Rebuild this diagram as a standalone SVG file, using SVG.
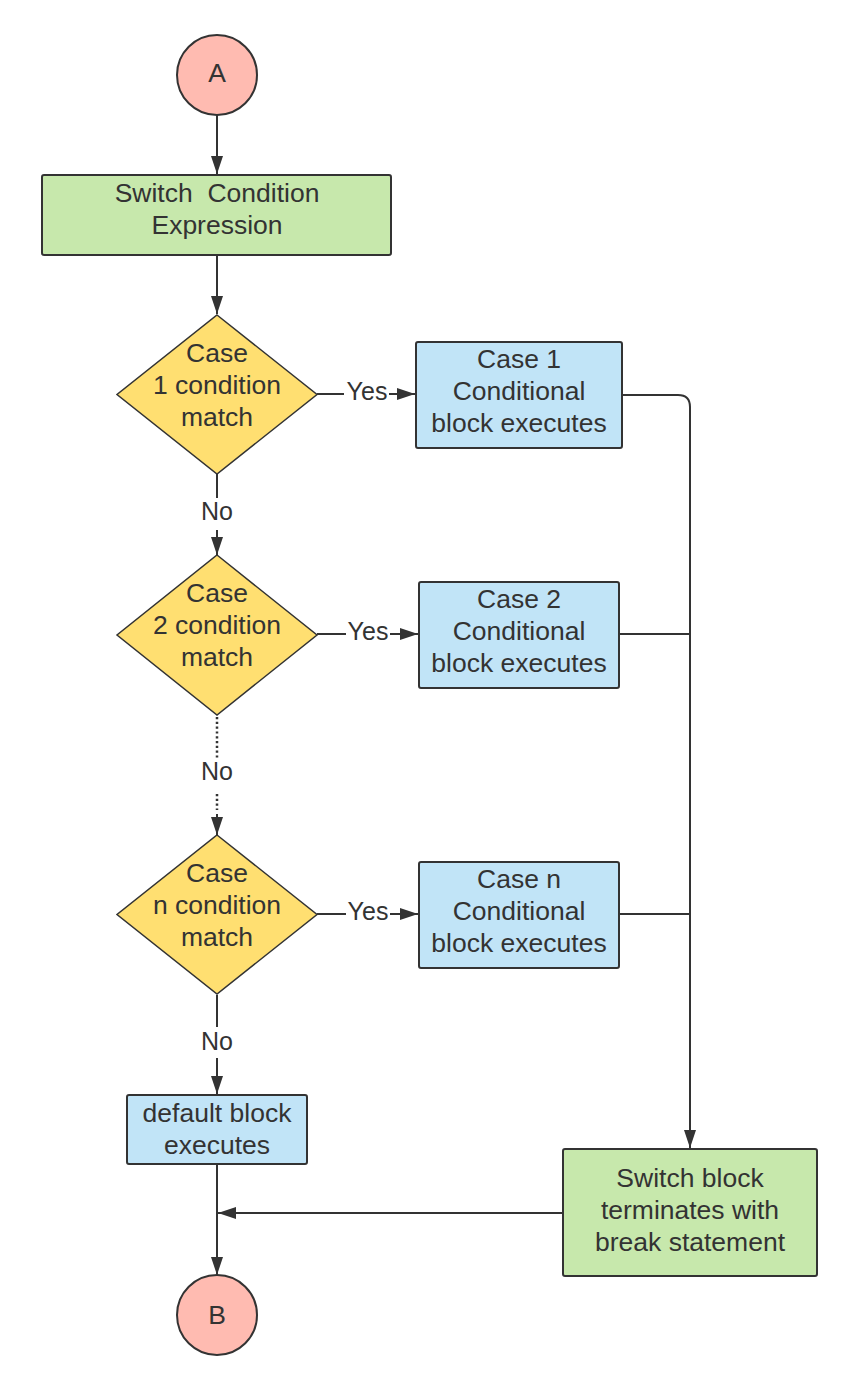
<svg xmlns="http://www.w3.org/2000/svg" width="865" height="1389" viewBox="0 0 865 1389">
<style>
text{font-family:"Liberation Sans",Arial,sans-serif;fill:#333333;text-anchor:middle}
.n{font-size:26.5px}
.l{font-size:25px}
.ln{fill:none;stroke:#333333;stroke-width:2}
.dot{fill:none;stroke:#333333;stroke-width:2.5;stroke-dasharray:2.2 2.6}
.circ{fill:#FFBBB1;stroke:#333333;stroke-width:2}
.grn{fill:#C7E8AC;stroke:#333333;stroke-width:2}
.blu{fill:#C1E4F7;stroke:#333333;stroke-width:2}
.yel{fill:#FFDF71;stroke:#333333;stroke-width:1.5}
</style>
<defs>
<marker id="ah" viewBox="0 0 18 12" refX="18" refY="6" markerWidth="18" markerHeight="12" markerUnits="userSpaceOnUse" orient="auto">
<path d="M0,0 L18,6 L0,12 Z" fill="#333333"/>
</marker>
</defs>
<rect width="865" height="1389" fill="#ffffff"/>
<g id="connectors">
<line class="ln" x1="217" y1="115" x2="217" y2="174" marker-end="url(#ah)"/>
<line class="ln" x1="217" y1="255" x2="217" y2="314" marker-end="url(#ah)"/>
<line class="ln" x1="217" y1="474" x2="217" y2="498"/>
<line class="ln" x1="217" y1="530" x2="217" y2="555" marker-end="url(#ah)"/>
<line class="dot" x1="217" y1="717" x2="217" y2="758"/>
<line class="dot" x1="217" y1="794" x2="217" y2="810"/>
<line class="ln" x1="217" y1="812" x2="217" y2="835" stroke-dasharray="0 2 30" marker-end="url(#ah)"/>
<line class="ln" x1="217" y1="995" x2="217" y2="1027"/>
<line class="ln" x1="217" y1="1058" x2="217" y2="1094" marker-end="url(#ah)"/>
<line class="ln" x1="217" y1="1164" x2="217" y2="1275" marker-end="url(#ah)"/>
<line class="ln" x1="563" y1="1213" x2="218" y2="1213" marker-end="url(#ah)"/>
<line class="ln" x1="317" y1="394" x2="344" y2="394"/>
<line class="ln" x1="389" y1="394" x2="415" y2="394" marker-end="url(#ah)"/>
<line class="ln" x1="317" y1="634" x2="346" y2="634"/>
<line class="ln" x1="390" y1="634" x2="418" y2="634" marker-end="url(#ah)"/>
<line class="ln" x1="317" y1="914" x2="346" y2="914"/>
<line class="ln" x1="390" y1="914" x2="418" y2="914" marker-end="url(#ah)"/>
<path class="ln" d="M622,395 H678 Q690,395 690,407 V1148" marker-end="url(#ah)"/>
<line class="ln" x1="619" y1="634" x2="690" y2="634"/>
<line class="ln" x1="619" y1="914" x2="690" y2="914"/>
<text class="l" x="367" y="400">Yes</text>
<text class="l" x="368" y="640">Yes</text>
<text class="l" x="368" y="920">Yes</text>
<text class="l" x="217" y="520">No</text>
<text class="l" x="217" y="780">No</text>
<text class="l" x="217" y="1050">No</text>
</g>
<g id="nodeA">
<circle class="circ" cx="217" cy="75" r="40"/>
<text class="n" x="217" y="82">A</text>
</g>
<g id="switchCondition">
<rect class="grn" x="42" y="175" width="349" height="80" rx="2"/>
<text class="n" x="217" y="202" xml:space="preserve">Switch  Condition</text>
<text class="n" x="217" y="234">Expression</text>
</g>
<g id="case1Decision">
<polygon class="yel" points="217,315 317,394.5 217,474 117,394.5"/>
<text class="n" x="217" y="362">Case</text>
<text class="n" x="217" y="394">1 condition</text>
<text class="n" x="217" y="426">match</text>
</g>
<g id="case1Block">
<rect class="blu" x="416" y="342" width="206" height="106" rx="2"/>
<text class="n" x="519" y="368">Case 1</text>
<text class="n" x="519" y="400">Conditional</text>
<text class="n" x="519" y="432">block executes</text>
</g>
<g id="case2Decision">
<polygon class="yel" points="217,555 317,635 217,715 117,635"/>
<text class="n" x="217" y="602">Case</text>
<text class="n" x="217" y="634">2 condition</text>
<text class="n" x="217" y="666">match</text>
</g>
<g id="case2Block">
<rect class="blu" x="419" y="582" width="200" height="106" rx="2"/>
<text class="n" x="519" y="608">Case 2</text>
<text class="n" x="519" y="640">Conditional</text>
<text class="n" x="519" y="672">block executes</text>
</g>
<g id="caseNDecision">
<polygon class="yel" points="217,835 317,914.5 217,994 117,914.5"/>
<text class="n" x="217" y="882">Case</text>
<text class="n" x="217" y="914">n condition</text>
<text class="n" x="217" y="946">match</text>
</g>
<g id="caseNBlock">
<rect class="blu" x="419" y="862" width="200" height="106" rx="2"/>
<text class="n" x="519" y="888">Case n</text>
<text class="n" x="519" y="920">Conditional</text>
<text class="n" x="519" y="952">block executes</text>
</g>
<g id="defaultBlock">
<rect class="blu" x="127" y="1095" width="180" height="69" rx="2"/>
<text class="n" x="217" y="1122">default block</text>
<text class="n" x="217" y="1154">executes</text>
</g>
<g id="switchTerminates">
<rect class="grn" x="563" y="1149" width="254" height="127" rx="2"/>
<text class="n" x="690" y="1187">Switch block</text>
<text class="n" x="690" y="1219">terminates with</text>
<text class="n" x="690" y="1251">break statement</text>
</g>
<g id="nodeB">
<circle class="circ" cx="217" cy="1315" r="40"/>
<text class="n" x="217" y="1324">B</text>
</g>
</svg>
